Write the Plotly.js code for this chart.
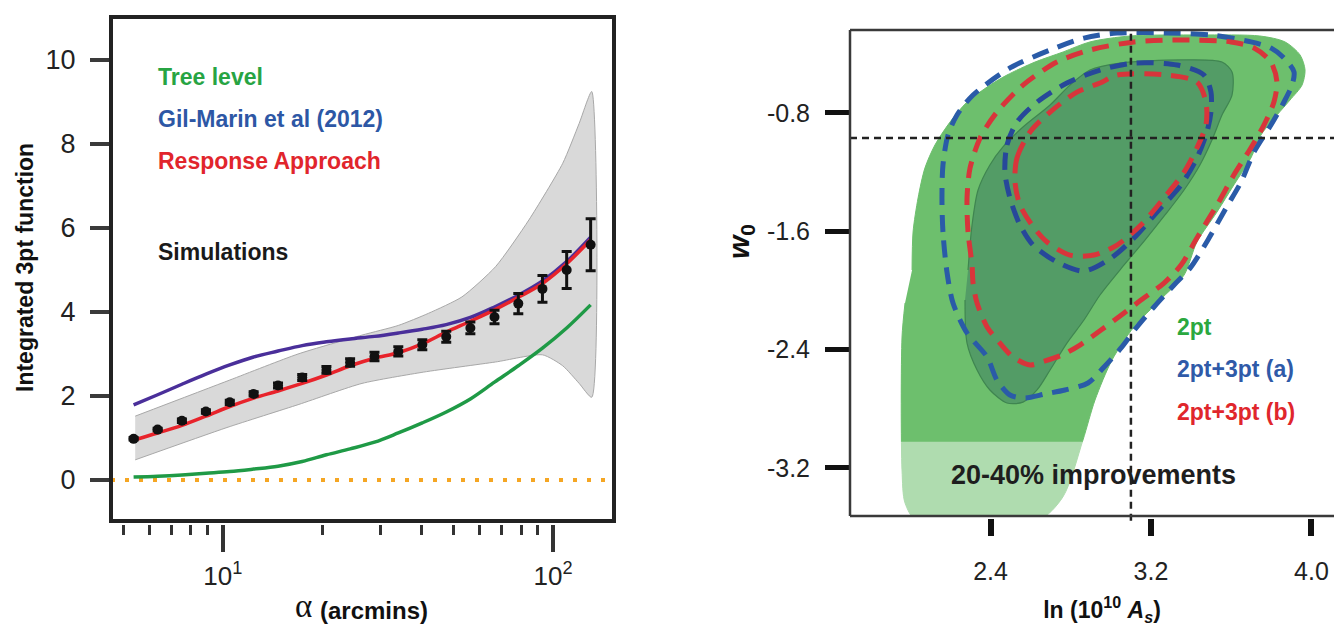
<!DOCTYPE html>
<html>
<head>
<meta charset="utf-8">
<script src="https://cdn.plot.ly/plotly-3.0.1.min.js"></script>
<style>html,body{margin:0;padding:0;background:#fff;}#chart{width:1334px;height:628px;}</style>
</head>
<body>
<div id="chart"></div>
<script>
// ---------------- LEFT PANEL DATA ----------------
const alphaArcmin = [5.37, 6.35, 7.52, 8.89, 10.5, 12.4, 14.7, 17.4, 20.6, 24.3, 28.8, 34.0, 40.2, 47.5, 56.2, 66.5, 78.5, 92.9, 110, 130];
const simValues   = [0.98, 1.20, 1.41, 1.63, 1.85, 2.05, 2.25, 2.44, 2.62, 2.80, 2.94, 3.06, 3.22, 3.41, 3.62, 3.88, 4.20, 4.55, 5.00, 5.60];
const simErrors   = [0.03, 0.03, 0.04, 0.04, 0.05, 0.05, 0.06, 0.07, 0.08, 0.09, 0.10, 0.11, 0.12, 0.13, 0.14, 0.16, 0.24, 0.32, 0.44, 0.62];
const treeLevel   = [0.07, 0.09, 0.12, 0.16, 0.20, 0.26, 0.33, 0.44, 0.60, 0.74, 0.90, 1.12, 1.36, 1.62, 1.93, 2.33, 2.72, 3.14, 3.62, 4.17];
const gilMarin    = [1.79, 2.03, 2.28, 2.52, 2.74, 2.93, 3.07, 3.20, 3.29, 3.36, 3.42, 3.50, 3.59, 3.70, 3.87, 4.12, 4.40, 4.74, 5.20, 5.78];
const responseApp = [0.95, 1.12, 1.30, 1.52, 1.75, 1.95, 2.12, 2.30, 2.50, 2.72, 2.90, 3.03, 3.24, 3.52, 3.78, 4.05, 4.35, 4.68, 5.15, 5.72];
const bandUpperAlpha = [5.43, 10.5, 16.9, 26.4, 34, 42, 53, 67, 84.5, 107, 120, 131];
const bandUpper      = [1.52, 2.38, 3.00, 3.45, 3.68, 3.97, 4.36, 5.08, 6.19, 7.54, 8.49, 9.25];
const bandLowerAlpha = [5.43, 10.3, 17, 26.4, 40.6, 67, 93, 107, 120, 131];
const bandLower      = [0.48, 1.25, 1.80, 2.30, 2.57, 2.81, 2.98, 2.72, 2.30, 1.97];
const leftYTicks = [0, 2, 4, 6, 8, 10];
const leftXMajor = [10, 100];
const leftXMajorText = ['10<sup>1</sup>', '10<sup>2</sup>'];
const leftXMinor = [5, 6, 7, 8, 9, 20, 30, 40, 50, 60, 70, 80, 90];
const leftLegend = ['Tree level', 'Gil-Marin et al (2012)', 'Response Approach', 'Simulations'];

// ---------------- RIGHT PANEL DATA ----------------
// 2pt, 95% region (outer green)
const c2pt95As = [2.009, 2.014, 2.039, 2.073, 2.123, 2.198, 2.283, 2.398, 2.482, 2.622, 2.762, 2.896, 3.095, 3.444, 3.743, 3.868, 3.943, 3.968, 3.953, 3.893, 3.798, 3.748, 3.698, 3.613, 3.529, 3.429, 3.365, 3.245, 3.115, 3.006, 2.921, 2.861, 2.761, 2.632, 2.034, 1.974, 1.959, 1.959, 1.974];
const c2pt95W0 = [-1.862, -1.605, -1.375, -1.173, -1.017, -0.862, -0.727, -0.612, -0.544, -0.456, -0.388, -0.320, -0.280, -0.273, -0.280, -0.320, -0.408, -0.509, -0.612, -0.713, -0.862, -0.950, -1.105, -1.287, -1.470, -1.673, -1.896, -2.065, -2.247, -2.470, -2.741, -3.011, -3.396, -3.560, -3.560, -3.437, -3.214, -2.315, -2.085];
// 2pt, 68% region (inner dark green)
const c2pt68As = [2.288, 2.308, 2.338, 2.397, 2.462, 2.562, 2.697, 2.796, 2.896, 3.046, 3.345, 3.554, 3.604, 3.604, 3.554, 3.504, 3.444, 3.365, 3.270, 3.170, 3.066, 2.946, 2.866, 2.781, 2.697, 2.632, 2.562, 2.482, 2.397, 2.333, 2.283, 2.273];
const c2pt68W0 = [-1.862, -1.558, -1.321, -1.152, -1.030, -0.895, -0.746, -0.612, -0.510, -0.463, -0.442, -0.456, -0.523, -0.679, -0.814, -0.983, -1.152, -1.321, -1.490, -1.660, -1.828, -2.031, -2.200, -2.356, -2.538, -2.673, -2.755, -2.761, -2.673, -2.538, -2.356, -2.065];
// 2pt+3pt (a), 95% and 68%
const cA95As = [2.183, 2.163, 2.158, 2.163, 2.188, 2.233, 2.313, 2.497, 2.697, 2.866, 3.031, 3.280, 3.499, 3.699, 3.798, 3.863, 3.913, 3.903, 3.863, 3.798, 3.714, 3.649, 3.574, 3.484, 3.395, 3.315, 3.215, 3.130, 3.051, 2.966, 2.886, 2.771, 2.672, 2.572, 2.497, 2.432, 2.383, 2.283, 2.213];
const cA95W0 = [-1.876, -1.605, -1.375, -1.152, -0.950, -0.814, -0.679, -0.496, -0.375, -0.294, -0.260, -0.260, -0.273, -0.320, -0.361, -0.429, -0.523, -0.612, -0.726, -0.882, -1.064, -1.267, -1.443, -1.659, -1.849, -1.963, -2.112, -2.247, -2.389, -2.518, -2.626, -2.673, -2.700, -2.727, -2.707, -2.606, -2.450, -2.288, -2.085];
const cA68As = [2.472, 2.482, 2.532, 2.632, 2.781, 2.946, 3.115, 3.330, 3.464, 3.499, 3.499, 3.479, 3.429, 3.350, 3.230, 3.115, 3.001, 2.866, 2.731, 2.612, 2.547, 2.497];
const cA68W0 = [-1.200, -1.017, -0.862, -0.727, -0.598, -0.510, -0.463, -0.476, -0.544, -0.659, -0.794, -0.929, -1.105, -1.287, -1.470, -1.646, -1.781, -1.869, -1.808, -1.693, -1.558, -1.375];
// 2pt+3pt (b), 95% and 68%
const cB95As = [2.308, 2.288, 2.283, 2.298, 2.348, 2.432, 2.562, 2.731, 2.896, 3.115, 3.365, 3.599, 3.714, 3.798, 3.828, 3.813, 3.763, 3.698, 3.613, 3.529, 3.429, 3.350, 3.265, 3.150, 3.066, 2.951, 2.846, 2.756, 2.672, 2.597, 2.512, 2.447, 2.383, 2.333, 2.313];
const cB95W0 = [-1.828, -1.605, -1.375, -1.173, -0.970, -0.794, -0.612, -0.456, -0.375, -0.320, -0.307, -0.320, -0.361, -0.456, -0.591, -0.726, -0.882, -1.037, -1.220, -1.423, -1.646, -1.828, -1.950, -2.065, -2.153, -2.268, -2.369, -2.437, -2.477, -2.504, -2.450, -2.356, -2.247, -2.085, -1.950];
const cB68As = [2.522, 2.532, 2.597, 2.697, 2.831, 2.946, 3.031, 3.280, 3.429, 3.474, 3.474, 3.429, 3.365, 3.265, 3.150, 3.031, 2.916, 2.796, 2.682, 2.607, 2.547];
const cB68W0 = [-1.267, -1.105, -0.929, -0.794, -0.659, -0.598, -0.544, -0.544, -0.591, -0.726, -0.882, -1.037, -1.200, -1.375, -1.558, -1.693, -1.761, -1.761, -1.673, -1.558, -1.423];
const fiducialAs = 3.1;
const fiducialW0 = -0.97;
const improvementBandAs = [1.9, 2.95];
const improvementBandW0 = [-3.56, -3.023];
const rightXTicks = [2.4, 3.2, 4.0];
const rightXTickText = ['2.4', '3.2', '4.0'];
const rightYTicks = [-0.8, -1.6, -2.4, -3.2];
const rightYTickText = ['-0.8', '-1.6', '-2.4', '-3.2'];
const rightLegend = ['2pt', '2pt+3pt (a)', '2pt+3pt (b)'];

// ---------------- HELPERS ----------------
const W = 1334, H = 628;
const PX = v => v / W;
const PY = v => 1 - v / H;
const close = a => a.concat([a[0]]);
const FONT = 'Liberation Sans, Arial, sans-serif';

const cGreen = '#1f9a46', cPurple = '#4a2f9a', cRed = '#e8232b', cOrange = '#f5a623';
const tGreen = '#27a443', tBlue = '#2d57a5', tRed = '#e1252c';

const traces = [];
traces.push({
  x: bandUpperAlpha.concat(bandLowerAlpha.slice().reverse()),
  y: bandUpper.concat(bandLower.slice().reverse()),
  xaxis: 'x', yaxis: 'y', type: 'scatter', mode: 'lines', fill: 'toself',
  fillcolor: '#d9d9d9', line: {color: '#a8a8a8', width: 1, shape: 'spline', smoothing: 0.6},
  hoverinfo: 'skip'
});
traces.push({x: alphaArcmin, y: treeLevel, xaxis: 'x', yaxis: 'y', mode: 'lines',
  line: {color: cGreen, width: 3.5, shape: 'spline'}, name: leftLegend[0]});
traces.push({x: alphaArcmin, y: gilMarin, xaxis: 'x', yaxis: 'y', mode: 'lines',
  line: {color: cPurple, width: 3.5, shape: 'spline'}, name: leftLegend[1]});
traces.push({x: alphaArcmin, y: responseApp, xaxis: 'x', yaxis: 'y', mode: 'lines',
  line: {color: cRed, width: 3.5, shape: 'spline'}, name: leftLegend[2]});
traces.push({x: alphaArcmin, y: simValues, xaxis: 'x', yaxis: 'y', mode: 'markers',
  marker: {color: '#111', size: 10},
  error_y: {type: 'data', array: simErrors, visible: true, color: '#111', thickness: 3, width: 5},
  name: leftLegend[3]});

traces.push({x: c2pt95As, y: c2pt95W0, xaxis: 'x2', yaxis: 'y2', mode: 'lines', fill: 'toself',
  fillcolor: '#6dbf6d', line: {color: '#6dbf6d', width: 1, shape: 'spline', smoothing: 0.8}, hoverinfo: 'skip'});
traces.push({x: c2pt68As, y: c2pt68W0, xaxis: 'x2', yaxis: 'y2', mode: 'lines', fill: 'toself',
  fillcolor: '#539c66', line: {color: '#3f8550', width: 1.2, shape: 'spline', smoothing: 0.8}, hoverinfo: 'skip'});
traces.push({
  x: [improvementBandAs[0], improvementBandAs[1], improvementBandAs[1], improvementBandAs[0]],
  y: [improvementBandW0[0], improvementBandW0[0], improvementBandW0[1], improvementBandW0[1]],
  xaxis: 'x2', yaxis: 'y2', mode: 'lines', fill: 'toself', fillcolor: 'rgba(255,255,255,0.45)',
  line: {width: 0}, hoverinfo: 'skip'});
const dashStyle = '17px,10px';
[[cA95As, cA95W0, '#2a5ba8'], [cB95As, cB95W0, '#d8353b'], [cA68As, cA68W0, '#27489a'], [cB68As, cB68W0, '#d8353b']].forEach(c => {
  traces.push({x: close(c[0]), y: close(c[1]), xaxis: 'x2', yaxis: 'y2', mode: 'lines',
    line: {color: c[2], width: 5, dash: dashStyle, shape: 'spline', smoothing: 0.8}, hoverinfo: 'skip'});
});

function label(texts, xs, ys, size, colors, opts) {
  opts = opts || {};
  return {
    x: xs, y: ys, text: texts, xaxis: 'x3', yaxis: 'y3', mode: 'text', type: 'scatter',
    textposition: opts.pos || 'middle right', cliponaxis: false, hoverinfo: 'skip',
    textfont: {size: size, color: colors, family: opts.family || FONT, weight: opts.weight || 'bold'}
  };
}
traces.push(label(leftLegend, [158, 158, 158, 158], [79, 121, 163, 254], 23, [tGreen, tBlue, tRed, '#1a1a1a']));
traces.push(label(rightLegend, [1177, 1177, 1177], [329, 371, 414], 23, ['#2ba83f', '#2f5aa8', '#e0262c']));
traces.push(label(['20-40% improvements'], [951], [477], 27, '#1e1e1e'));
traces.push(label(['α'], [295], [609], 33, '#111', {family: 'Liberation Serif, DejaVu Serif, serif', weight: 'normal'}));
traces.push(label(['(arcmins)'], [320], [613], 24, '#111'));
traces.push(label(['ln (10<sup>10</sup> <i>A<sub>s</sub></i>)'], [1102], [612], 23, '#111', {pos: 'middle center'}));

const leftDomX = [PX(111), PX(614)];
const leftDomY = [PY(521), PY(17)];
const rightDomX = [PX(850), 1];
const rightDomY = [PY(516), PY(30)];

function note(text, x, y, size, color, opts) {
  return Object.assign({text: text, x: PX(x), y: PY(y), xref: 'paper', yref: 'paper',
    xanchor: 'center', yanchor: 'middle', showarrow: false, textangle: -90,
    font: {size: size, color: color, family: FONT, weight: 'bold'}}, opts || {});
}

const layout = {
  width: W, height: H,
  margin: {l: 0, r: 0, t: 0, b: 0},
  paper_bgcolor: '#fff', plot_bgcolor: 'rgba(0,0,0,0)',
  showlegend: false,
  font: {family: FONT, color: '#222'},
  xaxis: {
    domain: leftDomX, type: 'log', range: [Math.log10(4.587), Math.log10(153)],
    anchor: 'free', position: PY(524),
    showgrid: false, zeroline: false, showline: false,
    ticks: 'outside', ticklen: 27, tickwidth: 3.5, tickcolor: '#333',
    tickmode: 'array', tickvals: leftXMajor, ticktext: leftXMajorText,
    tickfont: {size: 26, color: '#222', family: FONT}, ticklabelstandoff: 2,
    minor: {tickmode: 'array', tickvals: leftXMinor, ticks: 'outside', ticklen: 10, tickwidth: 3, tickcolor: '#333'}
  },
  yaxis: {
    domain: leftDomY, range: [-0.976, 11.024],
    anchor: 'x',
    showgrid: false, zeroline: false, showline: false,
    ticks: 'outside', ticklen: 20, tickwidth: 4, tickcolor: '#3a3a3a',
    tickmode: 'array', tickvals: leftYTicks,
    tickfont: {size: 27, color: '#222', family: FONT}, ticklabelstandoff: 9
  },
  xaxis2: {
    domain: rightDomX, range: [1.6996, 4.1124],
    anchor: 'free', position: PY(518),
    showgrid: false, zeroline: false, showline: false,
    ticks: 'outside', ticklen: 17, tickwidth: 6, tickcolor: '#111',
    tickmode: 'array', tickvals: rightXTicks, ticktext: rightXTickText,
    tickfont: {size: 25, color: '#222', family: FONT}, ticklabelstandoff: 14
  },
  yaxis2: {
    domain: rightDomY, range: [-3.525, -0.2394],
    anchor: 'x2',
    showgrid: false, zeroline: false, showline: false,
    ticks: 'outside', ticklen: 24, tickwidth: 5, tickcolor: '#111',
    tickmode: 'array', tickvals: rightYTicks, ticktext: rightYTickText,
    tickfont: {size: 25, color: '#222', family: FONT}, ticklabelstandoff: 10
  },
  xaxis3: {domain: [0, 1], range: [0, W], anchor: 'y3', visible: false, fixedrange: true},
  yaxis3: {domain: [0, 1], range: [H, 0], anchor: 'x3', visible: false, fixedrange: true},
  shapes: [
    {type: 'line', layer: 'below', xref: 'x domain', yref: 'y', x0: 0, x1: 1, y0: 0, y1: 0,
     line: {color: cOrange, width: 4, dash: '4px,10px'}},
    {type: 'rect', xref: 'x domain', yref: 'y domain', x0: 0, x1: 1, y0: 0, y1: 1,
     line: {color: '#222', width: 4}},
    {type: 'line', xref: 'x2 domain', yref: 'y2', x0: 0, x1: 1, y0: fiducialW0, y1: fiducialW0,
     line: {color: '#222', width: 2.5, dash: '7px,5px'}},
    {type: 'line', xref: 'x2', yref: 'y2 domain', x0: fiducialAs, x1: fiducialAs, y0: -0.01, y1: 1,
     line: {color: '#222', width: 2.5, dash: '7px,5px'}},
    {type: 'line', xref: 'x2 domain', yref: 'y2 domain', x0: 0, x1: 1, y0: 1, y1: 1, line: {color: '#3a3a3a', width: 2.5}},
    {type: 'line', xref: 'x2 domain', yref: 'y2 domain', x0: 0, x1: 0, y0: 0, y1: 1, line: {color: '#3a3a3a', width: 2.5}},
    {type: 'line', xref: 'x2 domain', yref: 'y2 domain', x0: 0, x1: 1, y0: 0, y1: 0, line: {color: '#3a3a3a', width: 2.5}}
  ],
  annotations: [
    note('Integrated 3pt function', 25, 268, 23, '#111'),
    note('<i>w</i><sub>0</sub>', 740, 242, 30, '#111')
  ]
};

Plotly.newPlot('chart', traces, layout, {displayModeBar: false, staticPlot: true});
</script>
</body>
</html>
